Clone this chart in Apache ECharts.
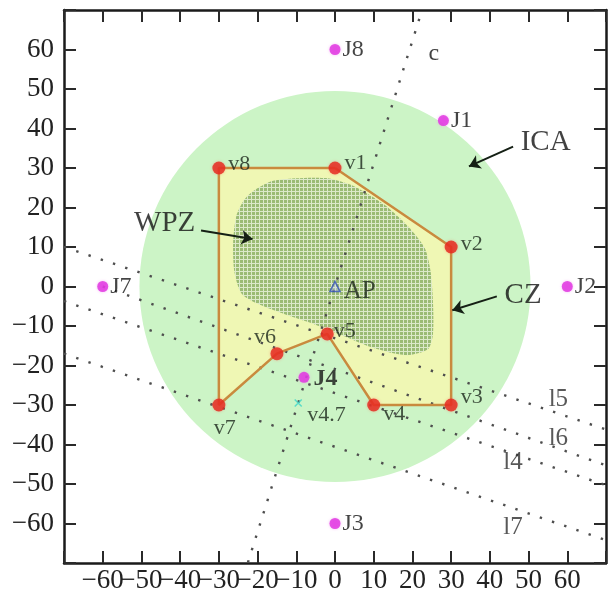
<!DOCTYPE html>
<html><head><meta charset="utf-8">
<script src="https://cdn.jsdelivr.net/npm/echarts@6/dist/echarts.min.js"></script>
<style>html,body{margin:0;padding:0;background:#fff}#c{width:609px;height:601px}</style>
</head><body><div id="c"></div>
<script>
// ---- data ----
const xTickLabels = [-60,-50,-40,-30,-20,-10,0,10,20,30,40,50,60];
const yTickLabels = [-60,-50,-40,-30,-20,-10,0,10,20,30,40,50,60];

const icaCenter = [0, 0];
const icaRadius = 50;

const czNames = ['v1','v2','v3','v4','v5','v6','v7','v8'];
const czX = [0, 30, 30, 10, -2, -15, -30, -30];
const czY = [30, 10, -30, -30, -12, -17, -30, 30];

const wpzX = [-21.2,-16.6,-10.3,-1.9,4.9,12.6,18.9,23.2,24.7,25.3,25.3,24.0,18.4,10.0,2.4,-5.2,-12.8,-20.4,-24.2,-26.0,-26.3,-25.5,-23.7];
const wpzY = [24.1,26.6,27.4,27.4,25.4,20.8,15.2,9.7,3.8,-3.7,-12.1,-15.9,-17.4,-15.6,-12.6,-9.6,-7.1,-4.2,-1.7,3.8,11.4,17.8,21.6];

const jamNames = ['J1','J2','J3','J4','J7','J8'];
const jamX = [28, 60, 0, -8, -60, 0];
const jamY = [42, 0, -60, -23, 0, 60];

const apPoint = [0, 0];
const v47Point = [-9.5, -29.5];

const lineNames = ['c','l5','l6','l4','l7'];
const lineX1 = [-23.5, -70, -60, -70, -70];
const lineY1 = [-73, 10, 0, -3.7, -17];
const lineX2 = [22.5, 70, 70, 70, 70];
const lineY2 = [70, -36.2, -45.3, -50.3, -64.2];

const textNames = ['ICA','WPZ','CZ','c','l5','l6','l4','l7'];
const textX = [54.4, -44, 48.6, 25.5, 57.7, 57.7, 46, 46];
const textY = [36.5, 16, -2.2, 59, -28.7, -38.4, -44.5, -61.1];

const arrowX1 = [46, -34.6, 41.8];
const arrowY1 = [35.4, 14.2, -2.5];
const arrowX2 = [34.6, -21.3, 30.3];
const arrowY2 = [30.4, 12, -6];

// ---- chart ----
const FONT = 'Liberation Serif';
const pc = document.createElement('canvas');
pc.width = 4; pc.height = 4;
const pctx = pc.getContext('2d');
pctx.fillStyle = '#dce9c9'; pctx.fillRect(0,0,4,4);
pctx.fillStyle = '#9bbb74'; pctx.fillRect(0,0,3,3);

const chart = echarts.init(document.getElementById('c'));
const axisBase = {
  type:'value', min:-70, max:70, interval:10, splitLine:{show:false},
  axisLine:{show:true, onZero:false, lineStyle:{color:'#1a1a1a', width:2.5}},
  axisTick:{show:true, inside:true, length:12, lineStyle:{color:'#2a2a2a', width:2}}
};
const fmt = (list) => (v) => list.includes(v) ? String(v).replace('-', '\u2212') : '';

const vLabelPos = {
  v1:{position:'right', distance:3, offset:[0,-5]},
  v2:{position:'right', distance:3, offset:[0,-3]},
  v3:{position:'right', distance:3, offset:[0,-8]},
  v4:{position:'right', distance:3, offset:[0,9]},
  v5:{position:'right', distance:0, offset:[0,-3]},
  v6:{position:'top', distance:3, offset:[-12,4]},
  v7:{position:'bottom', distance:3, offset:[6,3]},
  v8:{position:'right', distance:3, offset:[0,-4]}
};

const series = [];
series.push({
  type:'custom', z:1, silent:true, clip:true,
  data:[[icaCenter[0], icaCenter[1], icaRadius]],
  renderItem:(params, api) => {
    const c = api.coord([api.value(0), api.value(1)]);
    const s = api.size([api.value(2), api.value(2)]);
    return {type:'circle', shape:{cx:c[0], cy:c[1], r:(s[0]+s[1])/2}, style:{fill:'#ccf4c6'}};
  }
});
series.push({
  type:'custom', z:2, silent:true,
  data: czX.map((x,i)=>[x, czY[i]]),
  renderItem:(params, api) => {
    if (params.dataIndex !== 0) return null;
    const pts = czX.map((x,i)=>api.coord([x, czY[i]]));
    return {type:'polygon', shape:{points:pts}, style:{fill:'#eff7b4'}};
  }
});
series.push({
  type:'custom', z:3, silent:true,
  data: wpzX.map((x,i)=>[x, wpzY[i]]),
  renderItem:(params, api) => {
    if (params.dataIndex !== 0) return null;
    const pts = wpzX.map((x,i)=>api.coord([x, wpzY[i]]));
    return {type:'polygon', shape:{points:pts, smooth:0.25}, style:{fill:{image:pc, repeat:'repeat'}}};
  }
});
lineNames.forEach((n,i) => {
  series.push({
    type:'line', z:4, silent:true, symbol:'none', animation:false,
    data:[[lineX1[i], lineY1[i]], [lineX2[i], lineY2[i]]],
    lineStyle:{color:'#4e4e4e', width:2.4, type:[2.4, 10.5]}
  });
});
series.push({
  type:'line', z:5, silent:true, symbol:'none',
  data: czX.concat([czX[0]]).map((x,i)=>[x, czY.concat([czY[0]])[i]]),
  lineStyle:{color:'#c98a3e', width:2.5}
});
series.push({
  type:'scatter', z:6, symbolSize:13,
  itemStyle:{color:'#e4241c', shadowColor:'rgba(255,120,100,0.6)', shadowBlur:3},
  label:{show:true, formatter:'{b}', fontFamily:FONT, fontSize:22, color:'#1a261a'},
  data: czNames.map((n,i)=>({name:n, value:[czX[i], czY[i]], label:vLabelPos[n]}))
});
series.push({
  type:'scatter', z:6, symbolSize:11,
  itemStyle:{color:'#e02ee0', shadowColor:'rgba(240,140,240,0.7)', shadowBlur:3},
  label:{show:true, formatter:'{b}', position:'right', distance:2, fontFamily:FONT, fontSize:24, color:'#151515'},
  data: jamNames.map((n,i)=>({name:n, value:[jamX[i], jamY[i]],
    label: n==='J4' ? {fontWeight:'bold', distance:4, offset:[0,1]} : {}}))
});
series.push({
  type:'scatter', z:6, symbol:'triangle', symbolSize:10,
  itemStyle:{color:'rgba(200,210,255,0.5)', borderColor:'#2f4fb5', borderWidth:1.6},
  label:{show:true, formatter:'AP', position:'right', distance:3, offset:[0,5], fontFamily:FONT, fontSize:25, color:'#1a261a'},
  data:[{name:'AP', value:apPoint}]
});
series.push({
  type:'scatter', z:6, symbol:'path://M0,0L10,10M10,0L0,10', symbolSize:7,
  itemStyle:{color:'none', borderColor:'#3fd6c8', borderWidth:1.5},
  label:{show:true, formatter:'v4.7', position:'right', distance:3, offset:[0,12], fontFamily:FONT, fontSize:22, color:'#1a261a'},
  data:[{name:'v4.7', value:v47Point}]
});
series.push({
  type:'scatter', z:7, symbolSize:0, silent:true,
  label:{show:true, formatter:'{b}', position:'inside', fontFamily:FONT, color:'#111'},
  data: textNames.map((n,i)=>({name:n, value:[textX[i], textY[i]],
    label:{fontSize: (n==='ICA'||n==='WPZ'||n==='CZ') ? 29 : (n==='c' ? 24 : 25), color: n.startsWith('l') ? '#2e2e2e' : '#111'}}))
});
series.push({
  type:'lines', coordinateSystem:'cartesian2d', z:7, silent:true,
  symbol:['none','arrow'], symbolSize:11,
  lineStyle:{color:'#152015', width:2, opacity:1},
  data: arrowX1.map((x,i)=>({coords:[[x, arrowY1[i]], [arrowX2[i], arrowY2[i]]]}))
});

chart.setOption({
  animation:false,
  grid:{left:64, top:10, width:551, height:553, containLabel:false},
  xAxis:[
    Object.assign({}, axisBase, {position:'bottom', axisLabel:{margin:4, fontFamily:FONT, fontSize:27, color:'#222', formatter:fmt(xTickLabels)}}),
    Object.assign({}, axisBase, {position:'top', axisLabel:{show:false}})
  ],
  yAxis:[
    Object.assign({}, axisBase, {position:'left', axisLabel:{margin:10, fontFamily:FONT, fontSize:27, color:'#222', formatter:fmt(yTickLabels)}}),
    Object.assign({}, axisBase, {position:'right', axisLabel:{show:false}})
  ],
  series: series
});
</script>
</body></html>
